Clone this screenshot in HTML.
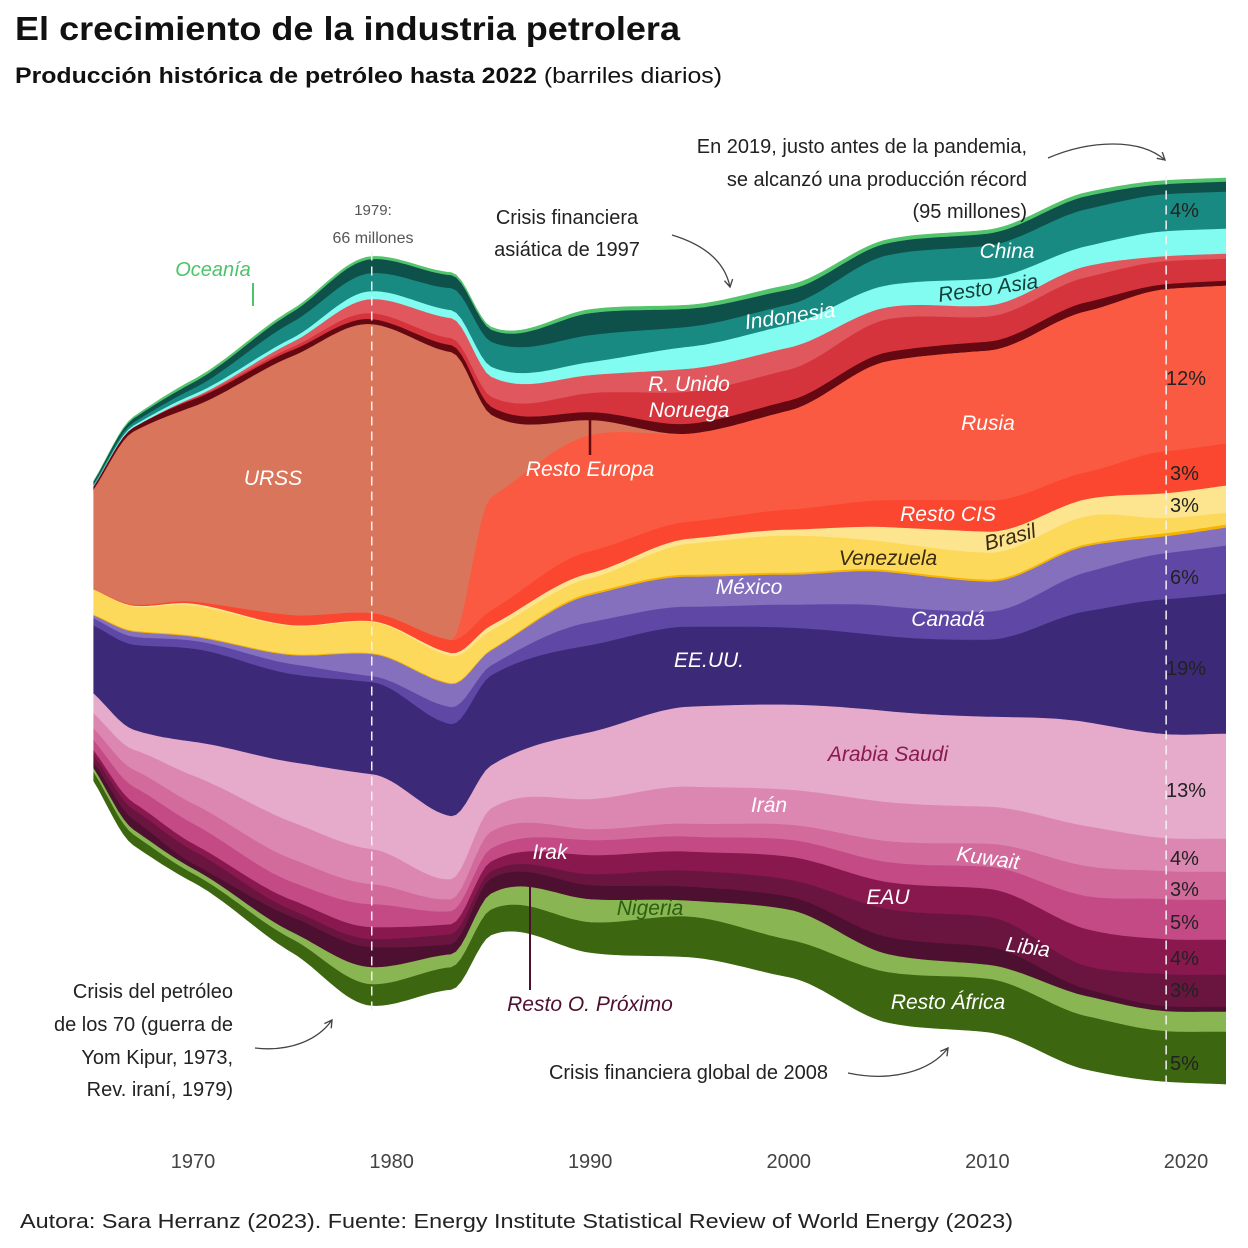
<!DOCTYPE html>
<html lang="es">
<head>
<meta charset="utf-8">
<title>El crecimiento de la industria petrolera</title>
<style>
  html,body{margin:0;padding:0;background:#fff;}
  svg{display:block;font-family:"Liberation Sans",sans-serif;}
  .lbl{font-style:italic;font-size:21px;fill:#fff;text-anchor:middle;}
  .pct{font-size:20px;fill:#222;}
  .ann{font-size:20px;fill:#222;}
  .tick{font-size:20px;fill:#444;text-anchor:middle;}
</style>
</head>
<body>
<svg id="chart" width="1248" height="1248" viewBox="0 0 1248 1248">
  <defs>
    <marker id="arr" viewBox="0 0 10 10" refX="8" refY="5" markerWidth="8" markerHeight="8" orient="auto-start-reverse">
      <path d="M1,1 L8,5 L1,9" fill="none" stroke="#444" stroke-width="1.3"/>
    </marker>
  </defs>
  <text x="15" y="40" font-size="33" font-weight="bold" fill="#111" textLength="665" lengthAdjust="spacingAndGlyphs">El crecimiento de la industria petrolera</text>
  <text x="15" y="83" font-size="22" fill="#111" textLength="707" lengthAdjust="spacingAndGlyphs"><tspan font-weight="bold">Producción histórica de petróleo hasta 2022</tspan> (barriles diarios)</text>

  <g id="layers"></g>
  <g id="guides"></g>

  <!-- annotations -->
  <g>
    <text class="ann" x="1027" y="153" text-anchor="end">En 2019, justo antes de la pandemia,</text>
    <text class="ann" x="1027" y="186" text-anchor="end">se alcanzó una producción récord</text>
    <text class="ann" x="1027" y="218" text-anchor="end">(95 millones)</text>
    <path d="M1048,158 C1090,140 1140,138 1165,160" fill="none" stroke="#444" stroke-width="1.3" marker-end="url(#arr)"/>
  </g>
  <g>
    <text class="ann" x="567" y="224" text-anchor="middle">Crisis financiera</text>
    <text class="ann" x="567" y="256" text-anchor="middle">asiática de 1997</text>
    <path d="M672,235 C705,245 725,262 730,287" fill="none" stroke="#444" stroke-width="1.3" marker-end="url(#arr)"/>
  </g>
  <g>
    <text x="373" y="215" font-size="15" fill="#555" text-anchor="middle">1979:</text>
    <text x="373" y="243" font-size="16" fill="#555" text-anchor="middle">66 millones</text>
  </g>
  <g>
    <text x="213" y="276" font-size="20" font-style="italic" fill="#4cc46a" text-anchor="middle">Oceanía</text>
    <line x1="253" y1="283" x2="253" y2="306" stroke="#4cc46a" stroke-width="2"/>
  </g>
  <g>
    <text class="ann" x="233" y="998" text-anchor="end">Crisis del petróleo</text>
    <text class="ann" x="233" y="1031" text-anchor="end">de los 70 (guerra de</text>
    <text class="ann" x="233" y="1064" text-anchor="end">Yom Kipur, 1973,</text>
    <text class="ann" x="233" y="1096" text-anchor="end">Rev. iraní, 1979)</text>
    <path d="M255,1048 C290,1052 318,1040 332,1020" fill="none" stroke="#444" stroke-width="1.3" marker-end="url(#arr)"/>
  </g>
  <g>
    <text class="ann" x="828" y="1079" text-anchor="end">Crisis financiera global de 2008</text>
    <path d="M848,1073 C890,1082 930,1072 948,1048" fill="none" stroke="#444" stroke-width="1.3" marker-end="url(#arr)"/>
  </g>

  <!-- in-chart labels -->
  <g>
    <text class="lbl" x="273" y="485">URSS</text>
    <line x1="590" y1="418" x2="590" y2="455" stroke="#660812" stroke-width="2.5"/>
    <text class="lbl" x="590" y="476">Resto Europa</text>
    <text class="lbl" x="988" y="430">Rusia</text>
    <text class="lbl" x="689" y="391">R. Unido</text>
    <text class="lbl" x="689" y="417">Noruega</text>
    <text class="lbl" x="790" y="323" transform="rotate(-8 790 316)">Indonesia</text>
    <text class="lbl" x="1007" y="258">China</text>
    <text class="lbl" x="988" y="295" fill="#123" style="fill:#14403c" transform="rotate(-8 988 288)">Resto Asia</text>
    <text class="lbl" x="948" y="521">Resto CIS</text>
    <text class="lbl" x="1010" y="544" style="fill:#3a2a12" transform="rotate(-15 1010 537)">Brasil</text>
    <text class="lbl" x="888" y="565" style="fill:#3a2a12">Venezuela</text>
    <text class="lbl" x="749" y="594">México</text>
    <text class="lbl" x="948" y="626">Canadá</text>
    <text class="lbl" x="709" y="667">EE.UU.</text>
    <text class="lbl" x="888" y="761" style="fill:#8a1a50">Arabia Saudi</text>
    <text class="lbl" x="769" y="812">Irán</text>
    <text class="lbl" x="550" y="859">Irak</text>
    <text class="lbl" x="988" y="865" transform="rotate(8 988 858)">Kuwait</text>
    <text class="lbl" x="888" y="904">EAU</text>
    <text class="lbl" x="1028" y="954" transform="rotate(8 1028 947)">Libia</text>
    <text class="lbl" x="650" y="915" style="fill:#2a6010">Nigeria</text>
    <text class="lbl" x="948" y="1009">Resto África</text>
    <line x1="530" y1="884" x2="530" y2="990" stroke="#4e1030" stroke-width="2"/>
    <text class="lbl" x="590" y="1011" style="fill:#4e1030">Resto O. Próximo</text>
  </g>

  <g>
    <text class="pct" x="1170" y="217">4%</text>
    <text class="pct" x="1166" y="385">12%</text>
    <text class="pct" x="1170" y="480">3%</text>
    <text class="pct" x="1170" y="512">3%</text>
    <text class="pct" x="1170" y="584">6%</text>
    <text class="pct" x="1166" y="675">19%</text>
    <text class="pct" x="1166" y="797">13%</text>
    <text class="pct" x="1170" y="865">4%</text>
    <text class="pct" x="1170" y="896">3%</text>
    <text class="pct" x="1170" y="929">5%</text>
    <text class="pct" x="1170" y="965">4%</text>
    <text class="pct" x="1170" y="997">3%</text>
    <text class="pct" x="1170" y="1070">5%</text>
  </g>

  <g id="xaxis"></g>

  <text x="20" y="1228" font-size="20" fill="#222" textLength="993" lengthAdjust="spacingAndGlyphs">Autora: Sara Herranz (2023). Fuente: Energy Institute Statistical Review of World Energy (2023)</text>
</svg>

<script>
// Data (units: 100k barrels/day)
const years      = [1965,1967,1970,1975,1979,1983,1985,1990,1995,2000,2005,2010,2015,2019,2022];
const oceania    = [1,2,3,3,3,3,3,4,4,5,4,4,4,4,4];
const indonesia  = [2,4,6,10,14,13,12,22,18,15,12,12,13,10,10];
const china      = [2,3,6,16,18,22,25,27,20,20,30,33,37,37,37];
const restoAsia  = [1,2,3,4,8,8,10,13,22,23,22,27,20,25,25];
const reinoUnido = [0,0,1,5,14,20,20,18,23,22,12,11,11,5,5];
const noruega    = [0,0,1,3,6,7,10,19,32,31,33,25,25,23,22];
const restoEuropa= [3,4,7,6,5,7,8,8,10,10,9,9,9,5,5];
const urss       = [100,173,195,259,289,288,83,15,0,0,0,0,0,0,0];
const rusia      = [0,0,0,0,0,0,113,116,88,99,139,150,161,162,158];
const restoCIS   = [0,1,2,10,8,13,15,22,17,20,27,31,27,42,42];
const brasil     = [0,1,2,1,1,3,5,5,5,6,15,21,17,25,27];
const venezuela  = [25,24,30,28,31,27,19,15,31,37,28,27,28,15,12];
const restoSudam = [1,1,1,1,1,1,1,2,2,2,2,2,2,3,3];
const mexico     = [3,5,4,9,22,23,15,27,30,30,34,30,26,17,18];
const canada     = [7,8,8,10,6,17,10,23,20,23,30,28,39,46,48];
const eeuu       = [68,85,93,88,92,92,90,87,80,77,75,77,111,135,140];
const arabiaSaudi= [20,20,34,60,75,63,43,67,80,85,91,90,104,104,105];
const iran       = [15,20,28,37,35,20,23,30,37,35,39,37,40,33,33];
const kuwait     = [12,17,20,23,20,12,17,11,13,15,21,23,30,28,28];
const irak       = [10,16,20,18,23,13,13,15,15,17,20,22,33,40,40];
const eau        = [5,7,7,10,12,10,10,19,19,23,27,28,37,35,35];
const libia      = [7,10,13,7,8,10,7,11,16,17,28,30,23,32,32];
const restoOP    = [6,10,5,15,20,10,15,14,14,13,17,18,7,5,5];
const nigeria    = [4,5,5,7,17,13,16,23,16,30,18,14,20,20,20];
const restoAfrica= [8,10,8,13,21,22,25,30,40,37,50,53,53,50,52];
const tickYears  = [1970,1980,1990,2000,2010,2020];
const markerYears= [1979,2019];

const series = [
  ['oceania',oceania,'#52c46c'],['indonesia',indonesia,'#0e514a'],['china',china,'#188a82'],
  ['resto-asia',restoAsia,'#82fbf1'],['reino-unido',reinoUnido,'#e0575e'],['noruega',noruega,'#d6343c'],
  ['resto-europa',restoEuropa,'#660812'],['urss',urss,'#d9755b'],['rusia',rusia,'#fa5a41'],
  ['resto-cis',restoCIS,'#fb4630'],['brasil',brasil,'#fde590'],['venezuela',venezuela,'#fcd95a'],
  ['resto-sudamerica',restoSudam,'#f6b400'],['mexico',mexico,'#8470bd'],['canada',canada,'#5f47a6'],
  ['eeuu',eeuu,'#3c2a78'],['arabia-saudi',arabiaSaudi,'#e6aacb'],['iran',iran,'#dc87b1'],
  ['kuwait',kuwait,'#d26a9c'],['irak',irak,'#c44a86'],['eau',eau,'#88184e'],['libia',libia,'#6a1540'],
  ['resto-oriente-proximo',restoOP,'#4e1030'],['nigeria',nigeria,'#89b552'],['resto-africa',restoAfrica,'#3d6610']
];

const NS='http://www.w3.org/2000/svg';
function x(yr){ return 193 + (yr-1970)*19.86; }
const CENTER=631, K=1.0;
function y(v){ return v*K; }

function monotone(xs,ys){
  const n=xs.length, m=[], t=[];
  for(let i=0;i<n-1;i++) m.push((ys[i+1]-ys[i])/(xs[i+1]-xs[i]));
  for(let i=0;i<n;i++){
    if(i===0) t.push(m[0]); else if(i===n-1) t.push(m[n-2]);
    else if(m[i-1]*m[i]<=0) t.push(0);
    else t.push(2*m[i-1]*m[i]/(m[i-1]+m[i]));
  }
  return function(v){
    let i=0; while(i<n-2 && v>xs[i+1]) i++;
    const h=xs[i+1]-xs[i], s=(v-xs[i])/h;
    const h00=2*s*s*s-3*s*s+1,h10=s*s*s-2*s*s+s,h01=-2*s*s*s+3*s*s,h11=s*s*s-s*s;
    return Math.max(0,h00*ys[i]+h10*h*t[i]+h01*ys[i+1]+h11*h*t[i+1]);
  };
}

const samp=[]; for(let a=years[0]; a<=years[years.length-1]+1e-9; a+=0.25) samp.push(a);
const fns=series.map(s=>monotone(years,s[1]));
const vals=fns.map(f=>samp.map(a=>f(a)));
const tops=samp.map((a,j)=>{ let tot=0; vals.forEach(v=>tot+=v[j]); return CENTER-y(tot)/2; });

const g=document.getElementById('layers');
const cum=samp.map((a,j)=>tops[j]);
series.forEach((s,i)=>{
  const top=cum.slice(), bot=cum.map((c,j)=>c+y(vals[i][j]));
  let d='M'+samp.map((a,j)=>x(a).toFixed(1)+','+top[j].toFixed(1)).join('L');
  for(let j=samp.length-1;j>=0;j--) d+='L'+x(samp[j]).toFixed(1)+','+bot[j].toFixed(1);
  d+='Z';
  const p=document.createElementNS(NS,'path');
  p.setAttribute('d',d); p.setAttribute('fill',s[2]); p.setAttribute('stroke',s[2]); p.setAttribute('stroke-width','0.6');
  
  
  g.appendChild(p);
  for(let j=0;j<cum.length;j++) cum[j]=bot[j];
});

const gd=document.getElementById('guides');
markerYears.forEach(yr=>{
  const j=Math.round((yr-years[0])/0.25);
  const ln=document.createElementNS(NS,'line');
  ln.setAttribute('x1',x(yr)); ln.setAttribute('x2',x(yr));
  ln.setAttribute('y1',tops[j]-5); ln.setAttribute('y2',cum[j]+5);
  ln.setAttribute('stroke','#f2f2f2'); ln.setAttribute('stroke-width','1.5'); ln.setAttribute('stroke-dasharray','9,6');
  
  
  gd.appendChild(ln);
});

const ax=document.getElementById('xaxis');
tickYears.forEach(yr=>{
  const t=document.createElementNS(NS,'text');
  t.setAttribute('x',x(yr)); t.setAttribute('y',1168); t.setAttribute('class','tick');
  t.textContent=yr;
  
  
  ax.appendChild(t);
});
</script>
</body>
</html>
